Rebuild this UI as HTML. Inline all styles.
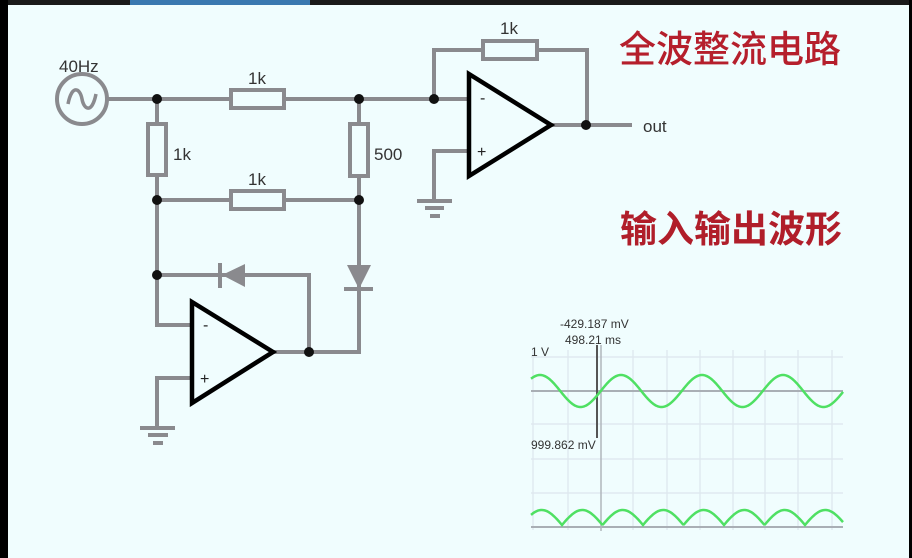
<!DOCTYPE html>
<html><head><meta charset="utf-8"><style>
html,body{margin:0;padding:0;width:912px;height:558px;overflow:hidden;background:#f0fdfe}
svg{display:block}
text{font-family:"Liberation Sans","Noto Sans CJK SC",sans-serif}
</style></head><body>
<svg width="912" height="558" viewBox="0 0 912 558" xmlns="http://www.w3.org/2000/svg">
<rect width="912" height="558" fill="#f0fdfe"/>
<rect x="0" y="0" width="912" height="5" fill="#1a1a1a"/>
<rect x="130" y="0" width="180" height="5" fill="#3a78b0"/>
<rect x="0" y="0" width="8" height="558" fill="#000"/>
<rect x="909" y="0" width="3" height="558" fill="#000"/>

<g stroke="#8a8a8e" stroke-width="4" fill="none">
<circle cx="82" cy="99" r="25"/>
<path d="M68 104 C72 84 80 88 82 99 C84 110 92 114 96 94" stroke-width="3.5"/>
<path d="M107 99 H231 M284 99 H468"/>
<rect x="231" y="90" width="53" height="18" fill="#f0fdfe"/>
<path d="M157 99 V124 M157 175 V325 H191"/>
<rect x="148" y="124" width="18" height="51" fill="#f0fdfe"/>
<path d="M157 200 H231 M284 200 H359"/>
<rect x="231" y="191" width="53" height="18" fill="#f0fdfe"/>
<path d="M359 99 V124 M359 176 V352 H274"/>
<rect x="350" y="124" width="18" height="52" fill="#f0fdfe"/>
<path d="M157 275 H309 V352"/>
<path d="M191 378 H157 V428"/>
<path d="M140 428 H175 M148 435 H168 M153 443 H163"/>
<path d="M434 99 V50 H483 M537 50 H587 V125 M552 125 H632"/>
<rect x="483" y="41" width="54" height="18" fill="#f0fdfe"/>
<path d="M468 151 H434 V201"/>
<path d="M417 201 H452 M425 208 H444 M430 216 H440"/>
<path d="M220 263 V288 M344 289 H373"/>
</g>
<polygon points="222,275 245,264 245,287" fill="#8a8a8e"/>
<polygon points="347,265 371,265 359,289" fill="#8a8a8e"/>
<g fill="#111">
<circle cx="157" cy="99" r="5"/><circle cx="359" cy="99" r="5"/><circle cx="434" cy="99" r="5"/>
<circle cx="157" cy="200" r="5"/><circle cx="359" cy="200" r="5"/><circle cx="157" cy="275" r="5"/>
<circle cx="309" cy="352" r="5"/><circle cx="586" cy="125" r="5"/>
</g>
<polygon points="192,302 192,403 273,352" fill="#f0fdfe" stroke="#000" stroke-width="4.5"/>
<polygon points="469,74 469,176 551,125" fill="#f0fdfe" stroke="#000" stroke-width="4.5"/>
<g fill="#222" font-size="16">
<text x="203" y="330">-</text><text x="200" y="384">+</text>
<text x="480" y="103">-</text><text x="477" y="157">+</text>
</g>
<g fill="#333" font-size="17">
<text x="59" y="72">40Hz</text>
<text x="248" y="84">1k</text>
<text x="248" y="185">1k</text>
<text x="173" y="160">1k</text>
<text x="374" y="160">500</text>
<text x="500" y="34">1k</text>
<text x="643" y="132">out</text>
</g>
<text x="619" y="62" font-size="37" font-weight="500" fill="#b51f2c" style="font-family:'Noto Sans CJK SC',sans-serif">全波整流电路</text>
<text x="620" y="242" font-size="37" font-weight="bold" fill="#b01e2a" style="font-family:'Noto Sans CJK SC',sans-serif">输入输出波形</text>

<g stroke="#dde6ee" stroke-width="1.2" id="grid"></g>
<path d="M531 391 H843 M531 527 H843" stroke="#a9afb5" stroke-width="2"/>
<path d="M601 345 V531" stroke="#b0b6bc" stroke-width="1.5"/>
<path d="M597 345 V438" stroke="#555" stroke-width="2"/>
<path id="s1" fill="none" stroke="#4fe063" stroke-width="2.5"/>
<path id="s2" fill="none" stroke="#4fe063" stroke-width="2.5"/>
<g fill="#333" font-size="12">
<text x="560" y="328">-429.187 mV</text>
<text x="565" y="344">498.21 ms</text>
<text x="531" y="356">1 V</text>
<text x="531" y="449">999.862 mV</text>
</g>
</svg>
<script>
var g=document.getElementById('grid'),ns='http://www.w3.org/2000/svg',d='';
[533,568,633,667,700,733,765,798,832].forEach(function(x){d+='M'+x+' 350V530';});
[357,424,459,493].forEach(function(y){d+='M531 '+y+'H843';});
var p=document.createElementNS(ns,'path');p.setAttribute('d',d);g.appendChild(p);
var a='',b='';
for(var x=531;x<=843;x+=1){
 var y1=391-16*Math.cos(2*Math.PI*(x-540)/81);
 var y2=525-15*Math.abs(Math.sin(Math.PI*(x-562)/40.5));
 a+=(x==531?'M':'L')+x+' '+y1.toFixed(1);
 b+=(x==531?'M':'L')+x+' '+y2.toFixed(1);
}
document.getElementById('s1').setAttribute('d',a);
document.getElementById('s2').setAttribute('d',b);
</script>
</body></html>
